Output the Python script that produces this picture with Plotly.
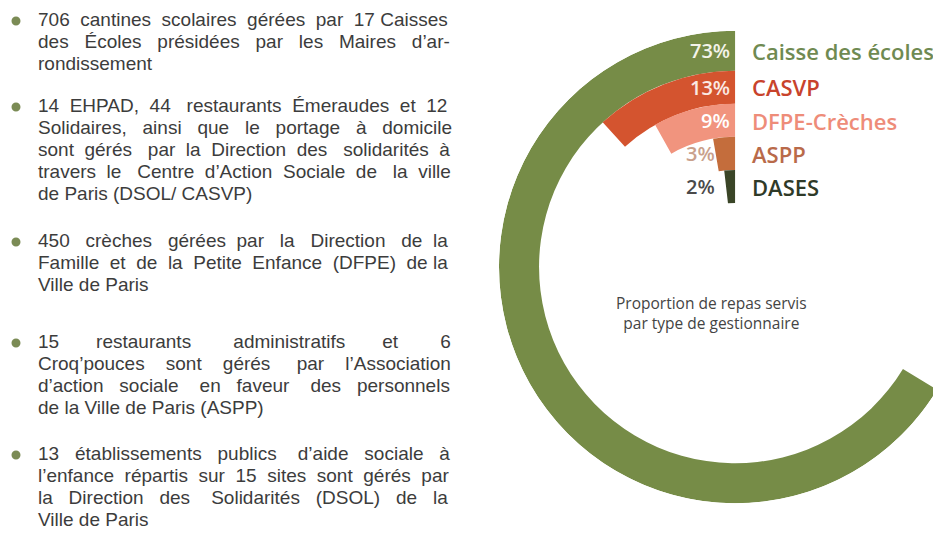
import plotly.graph_objects as go

# ---------------- data ----------------
categories = ["Caisse des écoles", "CASVP", "DFPE-Crèches", "ASPP", "DASES"]
shares = [73, 13, 9, 3, 2]
pct_labels = ["73%", "13%", "9%", "3%", "2%"]
center_title = ["Proportion de repas servis", "par type de gestionnaire"]

bullet_paragraphs = [
    ["706 cantines scolaires gérées par 17 Caisses",
     "des Écoles présidées par les  Maires d’ar-",
     "rondissement"],
    ["14 EHPAD, 44 restaurants Émeraudes et 12",
     "Solidaires, ainsi que le portage à domicile",
     "sont gérés par la Direction des solidarités à",
     "travers le Centre d’Action Sociale de la ville",
     "de Paris (DSOL/ CASVP)"],
    ["450 crèches gérées par la Direction de la",
     "Famille et de la Petite Enfance (DFPE) de la",
     "Ville de Paris"],
    ["15 restaurants administratifs et 6",
     "Croq’pouces sont gérés par l’Association",
     "d’action sociale en faveur des personnels",
     "de la Ville de Paris (ASPP)"],
    ["13 établissements publics d’aide sociale à",
     "l’enfance répartis sur 15 sites sont gérés par",
     "la Direction des Solidarités (DSOL) de la",
     "Ville de Paris"],
]

# ---------------- styles / layout ----------------
ring_colors = ["#768c47", "#d4542f", "#f1947e", "#c46d3c", "#3a4527"]
label_colors = ["#6f8a52", "#c8432c", "#ee8c79", "#b96a4a", "#2f3a28"]
pct_colors = ["#f4f4ea", "#fbe9e3", "#ffffff", "#c9a08c", "#4a4a4a"]
pct_right = [732, 732, 732, 717, 717]   # right edge of the % labels (screen px)
TEXT_COLOR = "#3c3c3c"
BULLET_COLOR = "#7b8b55"
FONT = "Open Sans"
BODY_FONT = "Liberation Sans"

W, H = 941, 534
OFF = 8                     # page body margin of the browser
DEG_PER_PCT = 3.27          # angular scale: percent -> degrees
R_MAX = 236                 # radial range (≈ pixels)
ring_thick = [40, 33, 33, 33, 33]
bases = []
outer = R_MAX
for t in ring_thick:
    bases.append(outer - t)
    outer -= t

CX, CY = 735, 267           # target polar centre (screen pixels)
fx, fy = CX - OFF, CY - OFF  # in figure pixels
DOM_X = [(fx - R_MAX) / W, (fx + 0.866 * R_MAX + 0.5) / W]
DOM_Y = [1 - (2 * fy) / H, 1]


def px(x):
    return (x - OFF) / W


def py(y):
    return 1 - (y - OFF) / H


fig = go.Figure()
fig.add_trace(go.Barpolar(
    r=ring_thick,
    base=bases,
    theta=[s * DEG_PER_PCT / 2 for s in shares],
    width=[s * DEG_PER_PCT for s in shares],
    marker=dict(color=ring_colors, line=dict(width=0)),
    text=categories,
    hovertemplate="%{text}<extra></extra>",
    showlegend=False,
))

annotations = []

# ring labels
for i, cat in enumerate(categories):
    mid = bases[i] + ring_thick[i] / 2
    ypix = CY - mid
    annotations.append(dict(
        x=px(pct_right[i]), y=py(ypix), xref="paper", yref="paper",
        text=pct_labels[i], showarrow=False,
        xanchor="right", yanchor="middle",
        font=dict(family=FONT, size=20, weight=600, color=pct_colors[i]),
    ))
    annotations.append(dict(
        x=px(CX + 15), y=py(ypix), xref="paper", yref="paper",
        text=cat, showarrow=False,
        xanchor="left", yanchor="middle",
        font=dict(family=FONT, size=22, weight=600, color=label_colors[i]),
    ))

# centre caption
annotations.append(dict(
    x=px(711), y=py(313), xref="paper", yref="paper",
    text="<br>".join(center_title), showarrow=False,
    xanchor="center", yanchor="middle", align="center",
    font=dict(family=FONT, size=15.5, color="#444444"),
))

# ---- bullet list (justified with non-breaking spaces) ----
# Liberation Sans (Arial-compatible) advance widths, 2048 units/em
AW = {' ': 569, 'a': 1139, 'b': 1139, 'c': 1024, 'd': 1139, 'e': 1139, 'f': 569,
      'g': 1139, 'h': 1139, 'i': 455, 'j': 455, 'k': 1024, 'l': 455, 'm': 1706,
      'n': 1139, 'o': 1139, 'p': 1139, 'q': 1139, 'r': 682, 's': 1024, 't': 569,
      'u': 1139, 'v': 1024, 'w': 1479, 'x': 1024, 'y': 1024, 'z': 1024,
      'A': 1366, 'B': 1366, 'C': 1479, 'D': 1479, 'E': 1366, 'F': 1251, 'G': 1593,
      'H': 1479, 'I': 569, 'J': 1024, 'K': 1366, 'L': 1139, 'M': 1706, 'N': 1479,
      'O': 1593, 'P': 1366, 'Q': 1593, 'R': 1479, 'S': 1366, 'T': 1251, 'U': 1479,
      'V': 1366, 'W': 1933, 'X': 1366, 'Y': 1366, 'Z': 1251,
      ',': 569, '.': 569, '(': 682, ')': 682, "'": 391, '’': 455, '-': 682, '/': 569,
      'é': 1139, 'è': 1139, 'à': 1139, 'É': 1366}
for d in '0123456789':
    AW[d] = 1139


def text_w(s, size):
    return sum(AW.get(ch, 1139) for ch in s) * size / 2048


BODY_SIZE = 19
LINE_GAP = 22
OUTER_SIZE = LINE_GAP / 1.3     # plotly line spacing = 1.3 em of the outer font
NB = "\u00a0"
TEXT_X0, TEXT_X1 = 38, 450
first_line_y = [21, 107, 242, 343, 455]


def justify(line):
    words = line.split()
    if len(words) < 2:
        return line
    sp = text_w(" ", BODY_SIZE)
    natural = sum(text_w(w, BODY_SIZE) for w in words) + sp * (len(words) - 1)
    extra = max(0.0, (TEXT_X1 - TEXT_X0) - natural)
    out = words[0]
    used = 0
    n = len(words) - 1
    for i in range(1, len(words)):
        target = round(extra * i / n / sp)
        k = target - used
        used = target
        out += NB * (1 + k) + words[i]
    return out


shapes = []
for k, para in enumerate(bullet_paragraphs):
    lines = []
    for j, line in enumerate(para):
        last = (j == len(para) - 1)
        txt = line.replace("  ", " ") if last else justify(line)
        if last:
            txt = txt.replace(" ", NB)
        lines.append(f'<span style="font-size:{BODY_SIZE}px">{txt}</span>')
    y1 = first_line_y[k]
    annotations.append(dict(
        x=px(TEXT_X0 - 2), y=py(y1 - 14), xref="paper", yref="paper",
        text="<br>".join(lines), showarrow=False,
        xanchor="left", yanchor="top", align="left",
        font=dict(family=BODY_FONT, size=OUTER_SIZE, color=TEXT_COLOR),
    ))
    shapes.append(dict(
        type="circle", xref="paper", yref="paper",
        x0=px(11.5), x1=px(20.5), y0=py(y1 + 4.5), y1=py(y1 - 4.5),
        fillcolor=BULLET_COLOR, line=dict(width=0),
    ))

fig.update_layout(
    width=W, height=H,
    margin=dict(l=0, r=0, t=0, b=0),
    paper_bgcolor="white",
    plot_bgcolor="white",
    polar=dict(
        domain=dict(x=DOM_X, y=DOM_Y),
        sector=[90, 330],
        bgcolor="rgba(0,0,0,0)",
        radialaxis=dict(range=[0, R_MAX], visible=False, showgrid=False),
        angularaxis=dict(visible=False, showgrid=False, direction="counterclockwise",
                         rotation=90, thetaunit="degrees", showline=False),
        bargap=0,
    ),
    annotations=annotations,
    shapes=shapes,
    showlegend=False,
)

fig.write_html("out.html")
